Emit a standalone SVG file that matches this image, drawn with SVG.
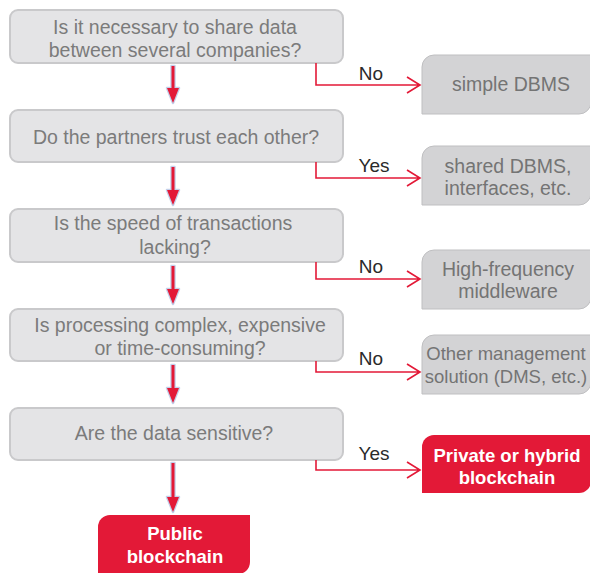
<svg xmlns="http://www.w3.org/2000/svg" width="590" height="573" viewBox="0 0 590 573">
<defs>
<style>
.q{fill:#e4e4e6;stroke:#c9c9cb;stroke-width:2}
.qt{font-family:"Liberation Sans",Arial,sans-serif;font-size:19.5px;fill:#7b7b7b;text-anchor:middle}
.r{fill:#d3d3d5;stroke:#bfbfc1;stroke-width:1}
.rt{font-family:"Liberation Sans",Arial,sans-serif;font-size:19.5px;fill:#747474;text-anchor:middle}
.rs{font-size:18.5px}
.f{fill:#e31937}
.ft{font-family:"Liberation Sans",Arial,sans-serif;font-size:18.5px;font-weight:bold;fill:#ffffff;text-anchor:middle}
.lbl{font-family:"Liberation Sans",Arial,sans-serif;font-size:19px;fill:#2a2a2a;text-anchor:middle}
.side{fill:none;stroke:#e31937;stroke-width:1.6}
.halo{fill:#c3d0ea;stroke:#c3d0ea;stroke-width:2.5;stroke-linejoin:round}
.down{fill:#e31937}
</style>
</defs>
<g id="q1"><rect class="q" x="10" y="10" width="333" height="53" rx="8"/><text class="qt" x="175" y="34">Is it necessary to share data</text><text class="qt" x="175" y="57">between several companies?</text></g>
<g id="q2"><rect class="q" x="10" y="110" width="333" height="52" rx="8"/><text class="qt" x="176" y="144">Do the partners trust each other?</text></g>
<g id="q3"><rect class="q" x="10" y="209" width="333" height="53" rx="8"/><text class="qt" x="173" y="230">Is the speed of transactions</text><text class="qt" x="175" y="254">lacking?</text></g>
<g id="q4"><rect class="q" x="10" y="309" width="333" height="52" rx="8"/><text class="qt" x="180" y="332">Is processing complex, expensive</text><text class="qt" x="180" y="355">or time-consuming?</text></g>
<g id="q5"><rect class="q" x="10" y="408" width="333" height="52" rx="8"/><text class="qt" x="174" y="440">Are the data sensitive?</text></g>
<g id="r1"><path class="r" d="M422,67 A12,12 0 0 1 434,55 L591,55 L591,102 A12,12 0 0 1 579,114 L422,114 Z"/><text class="rt" x="511" y="91">simple DBMS</text></g>
<g id="r2"><path class="r" d="M422,158 A12,12 0 0 1 434,146 L591,146 L591,193 A12,12 0 0 1 579,205 L422,205 Z"/><text class="rt" x="508" y="173">shared DBMS,</text><text class="rt" x="508" y="195">interfaces, etc.</text></g>
<g id="r3"><path class="r" d="M422,262 A12,12 0 0 1 434,250 L591,250 L591,297 A12,12 0 0 1 579,309 L422,309 Z"/><text class="rt" x="508" y="276">High-frequency</text><text class="rt" x="508" y="298">middleware</text></g>
<g id="r4"><path class="r" d="M422,347 A12,12 0 0 1 434,335 L591,335 L591,382 A12,12 0 0 1 579,394 L422,394 Z"/><text class="rt rs" x="506" y="360">Other management</text><text class="rt rs" x="506" y="383">solution (DMS, etc.)</text></g>
<g id="r5"><path class="f" d="M422,447 A12,12 0 0 1 434,435 L591,435 L591,481 A12,12 0 0 1 579,493 L422,493 Z"/><text class="ft" x="507" y="462">Private or hybrid</text><text class="ft" x="507" y="484">blockchain</text></g>
<g id="r6"><path class="f" d="M98,527 A12,12 0 0 1 110,515 L250,515 L250,562 A12,12 0 0 1 238,574 L98,574 Z"/><text class="ft" x="175" y="540">Public</text><text class="ft" x="175" y="563">blockchain</text></g>
<g id="connectors">
<g id="down1"><path class="halo" d="M171.5,66 L174.5,66 L174.5,88 L179,88 L173,103 L167,88 L171.5,88 Z"/><path class="down" d="M171.5,66 L174.5,66 L174.5,88 L179,88 L173,103 L167,88 L171.5,88 Z"/></g>
<g id="down2"><path class="halo" d="M171.5,167 L174.5,167 L174.5,190 L179,190 L173,205 L167,190 L171.5,190 Z"/><path class="down" d="M171.5,167 L174.5,167 L174.5,190 L179,190 L173,205 L167,190 L171.5,190 Z"/></g>
<g id="down3"><path class="halo" d="M171.5,266 L174.5,266 L174.5,289 L179,289 L173,304 L167,289 L171.5,289 Z"/><path class="down" d="M171.5,266 L174.5,266 L174.5,289 L179,289 L173,304 L167,289 L171.5,289 Z"/></g>
<g id="down4"><path class="halo" d="M171.5,365 L174.5,365 L174.5,388 L179,388 L173,403 L167,388 L171.5,388 Z"/><path class="down" d="M171.5,365 L174.5,365 L174.5,388 L179,388 L173,403 L167,388 L171.5,388 Z"/></g>
<g id="down5"><path class="halo" d="M171.5,463 L174.5,463 L174.5,497 L179,497 L173,512 L167,497 L171.5,497 Z"/><path class="down" d="M171.5,463 L174.5,463 L174.5,497 L179,497 L173,512 L167,497 L171.5,497 Z"/></g>
<path class="side" d="M316,63 L316,85 L420,85 M407,77 L420,85 L407,93"/>
<path class="side" d="M316,162 L316,178 L420,178 M407,170 L420,178 L407,186"/>
<path class="side" d="M316,262 L316,279 L420,279 M407,271 L420,279 L407,287"/>
<path class="side" d="M316,361 L316,372 L420,372 M407,364 L420,372 L407,380"/>
<path class="side" d="M316,460 L316,470 L420,470 M407,462 L420,470 L407,478"/>
<text class="lbl" x="371" y="80">No</text>
<text class="lbl" x="374" y="172">Yes</text>
<text class="lbl" x="371" y="273">No</text>
<text class="lbl" x="371" y="365">No</text>
<text class="lbl" x="374" y="460">Yes</text>
</g>
</svg>
